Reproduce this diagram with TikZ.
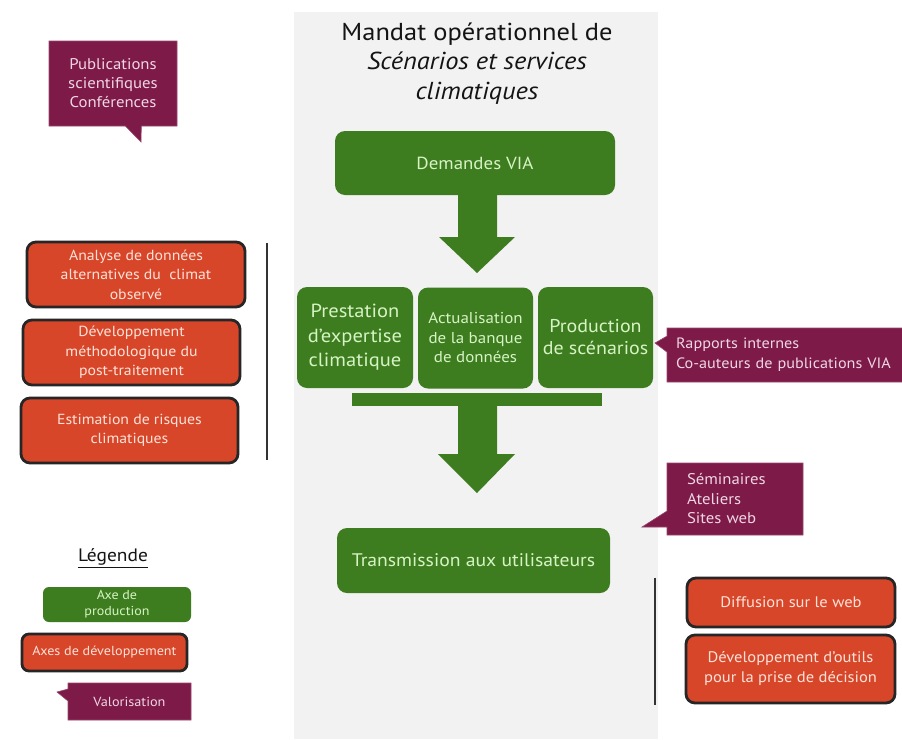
\documentclass[tikz,border=0pt]{standalone}
\usepackage{fontspec}
\setmainfont{PT Sans}[FakeStretch=1.08]
\usetikzlibrary{shapes.callouts}
\definecolor{vert}{HTML}{3E7D1F}
\definecolor{vertclair}{HTML}{D6F3C4}
\definecolor{rouge}{HTML}{D8462A}
\definecolor{rougeclair}{HTML}{FBE2D8}
\definecolor{bordeaux}{HTML}{7D1A48}
\definecolor{roseclair}{HTML}{F0D6E4}
\definecolor{panneau}{HTML}{F2F2F2}
\definecolor{titre}{HTML}{141414}
\tikzset{
  prodbox/.style={fill=vert, rounded corners=10pt, text=vertclair, align=center, inner sep=0pt},
  devbox/.style={fill=rouge, draw=black!85, line width=2.8pt, rounded corners=9pt, text=rougeclair, align=center, inner sep=0pt},
  valbox/.style={rectangle callout, fill=bordeaux, draw=bordeaux!80!white, line width=0.6pt, text=roseclair, inner sep=0pt, callout pointer width=16pt},
  bigarrow/.style={fill=vert},
  bracket/.style={draw=black!80, line width=1.2pt},
  tdev/.style={font=\fontsize{14.6}{19.5}\selectfont},
  tdevr/.style={font=\fontsize{15.3}{20}\selectfont},
}
\begin{document}
\begin{tikzpicture}[x=1pt,y=-1pt]
\useasboundingbox (0,0) rectangle (902,739);
\fill[white] (0,0) rectangle (902,739);
\fill[panneau] (294,12) rectangle (658,739);

% title
\node[text=titre, align=center, font=\fontsize{24.5}{29.5}\selectfont] (title) at (477,63.5)
  {Mandat opérationnel de\\ \textit{Scénarios et services}\\ \textit{climatiques}};

% production axis
\node[prodbox, minimum width=280pt, minimum height=64pt, font=\fontsize{17.5}{20}\selectfont] (demandes) at (475,163) {Demandes VIA};
\node[prodbox, minimum width=116pt, minimum height=101pt, font=\fontsize{19}{24.5}\selectfont] (prestation) at (355,337.5) {Prestation\\d’expertise\\climatique};
\node[prodbox, minimum width=115pt, minimum height=101pt, font=\fontsize{15.7}{19.5}\selectfont] (actualisation) at (475.5,338) {Actualisation\\de la banque\\de données};
\node[prodbox, minimum width=115pt, minimum height=101pt, font=\fontsize{18.5}{22}\selectfont] (production) at (595.5,337.5) {Production\\de scénarios};
\node[prodbox, minimum width=273pt, minimum height=65pt, font=\fontsize{18.2}{20}\selectfont] (transmission) at (473.5,560.5) {Transmission aux utilisateurs};

% big arrows
\fill[bigarrow] (458,195) -- (497,195) -- (497,237) -- (515,237) -- (477,273) -- (439,237) -- (458,237) -- cycle;
\fill[bigarrow] (352,393) rectangle (602,406);
\fill[bigarrow] (458,406) -- (497,406) -- (497,454) -- (515,454) -- (477,493) -- (438,454) -- (458,454) -- cycle;

% development axes, left
\node[devbox, tdev, minimum width=218pt, minimum height=65pt] (analyse) at (136,274.5) {Analyse de données\\alternatives du \ climat\\observé};
\node[devbox, tdev, minimum width=217pt, minimum height=65pt] (methodo) at (131.5,352.5) {Développement\\méthodologique du\\post-traitement};
\node[devbox, tdev, minimum width=217pt, minimum height=65pt] (risques) at (129.5,430.5) {Estimation de risques\\climatiques};
\coordinate (lt) at (267,243);
\coordinate (lb) at (267,460);
\draw[bracket] (lt) -- (lb);

% development axes, right
\node[devbox, tdevr, minimum width=208pt, minimum height=49pt] (diffusion) at (791,602.5) {Diffusion sur le web};
\node[devbox, tdevr, minimum width=209pt, minimum height=68pt] (outils) at (790.5,669) {Développement d’outils\\pour la prise de décision};
\coordinate (rt) at (655,578);
\coordinate (rb) at (655,705);
\draw[bracket] (rt) -- (rb);

% valorisation callouts
\node[valbox, align=center, font=\fontsize{15.5}{19}\selectfont, minimum width=128pt, minimum height=85pt,
  callout absolute pointer={(141,142)}] (publications) at (113,83.5) {Publications\\scientifiques\\Conférences};
\node[valbox, align=left, font=\fontsize{15}{20}\selectfont, text width=226pt, inner xsep=9pt, minimum height=54pt,
  callout absolute pointer={(655,343)}] (rapports) at (789,355) {Rapports internes\\Co-auteurs de publications VIA};
\node[valbox, align=left, font=\fontsize{15.5}{19.5}\selectfont, text width=96pt, inner xsep=20pt, minimum width=136pt, minimum height=72pt,
  callout absolute pointer={(642,527)}] (seminaires) at (735,499) {Séminaires\\Ateliers\\Sites web};

% legend
\node[text=titre, font=\fontsize{18}{20}\selectfont] (legende) at (113,558) {\underline{Légende}};
\node[prodbox, rounded corners=6pt, minimum width=148pt, minimum height=35pt, font=\fontsize{13}{16}\selectfont] (legprod) at (117,604.5) {Axe de\\production};
\node[devbox, rounded corners=7pt, minimum width=165pt, minimum height=37pt, font=\fontsize{13.1}{15}\selectfont] (legdev) at (104.5,652.5) {Axes de développement};
\node[valbox, align=center, minimum width=123pt, minimum height=37pt, font=\fontsize{13.2}{14}\selectfont,
  callout absolute pointer={(57,692)}, callout pointer width=12pt] (legval) at (129.5,701.5) {Valorisation};
\end{tikzpicture}
\end{document}
